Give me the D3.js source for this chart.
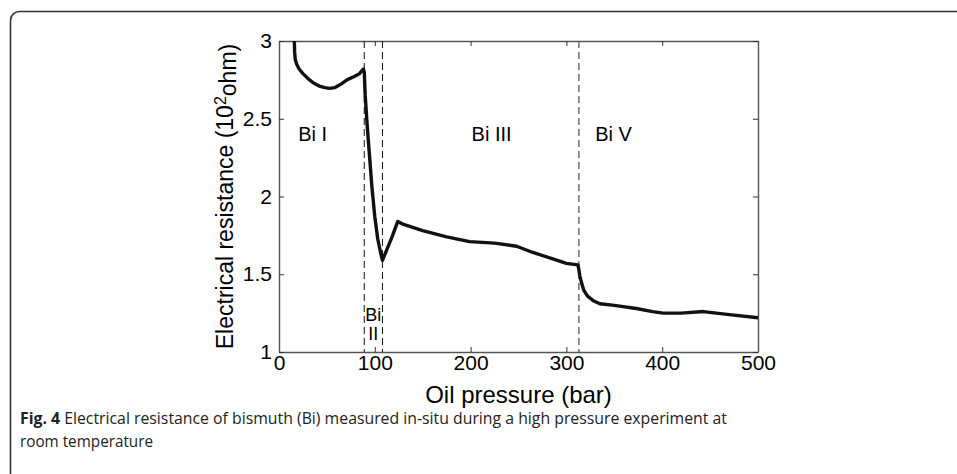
<!DOCTYPE html>
<html>
<head>
<meta charset="utf-8">
<script src="https://cdn.jsdelivr.net/npm/d3@7"></script>
<style>
	body { margin: 0; background: #fff; }
	svg { display: block; }
</style>
</head>
<body>
<svg class="fig" width="957" height="474"></svg>
<script>
// readings taken off the figure: oil pressure (bar) vs resistance (10^2 ohm)
let pressure = [16, 16.3, 17, 18.5, 21, 25, 30, 36, 42, 48, 53, 58, 64, 71, 78, 84, 88,
	89, 90, 92, 94, 97, 100, 103, 106, 108, 112, 118, 124, 130, 150, 175, 199, 225, 248, 265, 285, 300, 312,
	313, 314, 316, 318, 322, 328, 335, 350, 373, 390, 401, 420, 443, 470, 500];
let resistance = [3.0, 2.93, 2.88, 2.85, 2.82, 2.79, 2.76, 2.73, 2.71, 2.70, 2.695, 2.70, 2.72, 2.75, 2.77, 2.79, 2.82,
	2.80, 2.65, 2.46, 2.30, 2.06, 1.87, 1.73, 1.64, 1.59, 1.65, 1.74, 1.84, 1.82, 1.78, 1.74, 1.71, 1.70, 1.68, 1.64, 1.60, 1.57, 1.56,
	1.53, 1.49, 1.44, 1.40, 1.36, 1.33, 1.31, 1.30, 1.28, 1.26, 1.25, 1.25, 1.26, 1.24, 1.22];

let phaseBounds = [89, 108, 313];
let phaseNames = ['Bi I', 'Bi III', 'Bi V'];
let phaseAt = [20, 201, 330];
let xTicks = [0, 100, 200, 300, 400, 500];
let yTicks = [1, 1.5, 2, 2.5, 3];

let margin = { top: 41, left: 279 };
let constant = {
	width: 479,
	height: 311,
	x: d3.scaleLinear().domain([0, 500]),
	y: d3.scaleLinear().domain([1, 3])
};
constant.x.range([0, constant.width]);
constant.y.range([constant.height, 0]);

let svg = d3.select('.fig');

// card outline
svg.append('rect')
	.attr('x', 10.5).attr('y', 11.5)
	.attr('width', 980).attr('height', 500)
	.attr('rx', 9)
	.attr('fill', 'none')
	.attr('stroke', '#333')
	.attr('stroke-width', 1.6);

let g = svg.append('g').attr('transform', 'translate(' + margin.left + ',' + margin.top + ')');

let labelFont = '"Liberation Sans", Arial, sans-serif';

// axes, ticks point inwards like matlab
function styleAxis(sel) {
	sel.attr('font-family', labelFont).attr('font-size', 21);
	sel.select('.domain').attr('stroke', '#555').attr('stroke-width', 1.4);
	sel.selectAll('.tick line').attr('stroke', '#333');
	sel.selectAll('.tick text')
		.style('font-family', labelFont)
		.style('font-size', '21px')
		.style('fill', '#000');
}
g.append('g')
	.attr('transform', 'translate(0,' + constant.height + ')')
	.call(d3.axisBottom(constant.x).tickValues(xTicks).tickSizeInner(-5).tickSizeOuter(0).tickPadding(3))
	.call(styleAxis);
g.append('g')
	.call(d3.axisTop(constant.x).tickValues(xTicks).tickSizeInner(-5).tickSizeOuter(0).tickFormat(''))
	.call(styleAxis);
g.append('g')
	.call(d3.axisLeft(constant.y).tickValues(yTicks).tickSizeInner(-5).tickSizeOuter(0).tickPadding(7).tickFormat(d3.format('')))
	.call(styleAxis);
g.append('g')
	.attr('transform', 'translate(' + constant.width + ',0)')
	.call(d3.axisRight(constant.y).tickValues(yTicks).tickSizeInner(-5).tickSizeOuter(0).tickFormat(''))
	.call(styleAxis);

// phase boundaries
g.selectAll('.bound')
	.data(phaseBounds)
	.enter()
	.append('line')
	.attr('class', 'bound')
	.attr('x1', function(d) { return constant.x(d); })
	.attr('x2', function(d) { return constant.x(d); })
	.attr('y1', 0)
	.attr('y2', constant.height)
	.attr('stroke', function(d, i) { return i < 2 ? '#111' : '#777'; })
	.attr('stroke-width', function(d, i) { return i < 2 ? 1 : 1.6; })
	.attr('stroke-dasharray', '7,4');

// measured curve
let pts = pressure.map(function(p, i) { return [p, resistance[i]]; });
g.append('path')
	.datum(pts)
	.attr('fill', 'none')
	.attr('stroke', '#111')
	.attr('stroke-width', 3.4)
	.attr('stroke-linejoin', 'round')
	.attr('d', d3.line()
		.x(function(d) { return constant.x(d[0]); })
		.y(function(d) { return constant.y(d[1]); }));

// phase labels
g.selectAll('.phase')
	.data(phaseNames)
	.enter()
	.append('text')
	.attr('class', 'phase')
	.attr('x', function(d, i) { return constant.x(phaseAt[i]); })
	.attr('y', constant.y(2.36))
	.style('font-family', labelFont)
	.style('font-size', '20px')
	.text(function(d) { return d; });

let bi2 = g.append('text')
	.attr('x', constant.x(98.5))
	.attr('y', constant.y(1.2))
	.attr('text-anchor', 'middle')
	.style('font-family', labelFont)
	.style('font-size', '18px');
bi2.append('tspan').text('Bi');
bi2.append('tspan').attr('x', constant.x(98.5)).attr('dy', '1.05em').text('II');

// axis titles
g.append('text')
	.attr('x', constant.width / 2)
	.attr('y', constant.height + 51)
	.attr('text-anchor', 'middle')
	.style('font-family', labelFont)
	.style('font-size', '24px')
	.text('Oil pressure (bar)');

let yTitle = g.append('text')
	.attr('transform', 'translate(-46,' + (constant.height / 2) + ') rotate(-90)')
	.attr('text-anchor', 'middle')
	.style('font-family', labelFont)
	.style('font-size', '23px');
yTitle.append('tspan').text('Electrical resistance (10');
yTitle.append('tspan').attr('dy', '-0.45em').style('font-size', '16px').text('2');
yTitle.append('tspan').attr('dy', '0.45em').text('ohm)');

// caption
let cap = svg.append('text')
	.attr('x', 20).attr('y', 424)
	.attr('textLength', 707).attr('lengthAdjust', 'spacingAndGlyphs')
	.style('font-family', '"Open Sans", sans-serif')
	.style('font-size', '16px')
	.style('fill', '#222');
cap.append('tspan').style('font-weight', 'bold').text('Fig. 4');
cap.append('tspan').text(' Electrical resistance of bismuth (Bi) measured in-situ during a high pressure experiment at');
svg.append('text')
	.attr('x', 20).attr('y', 447)
	.attr('textLength', 133).attr('lengthAdjust', 'spacingAndGlyphs')
	.style('font-family', '"Open Sans", sans-serif')
	.style('font-size', '16px')
	.style('fill', '#222')
	.text('room temperature');
</script>
</body>
</html>
